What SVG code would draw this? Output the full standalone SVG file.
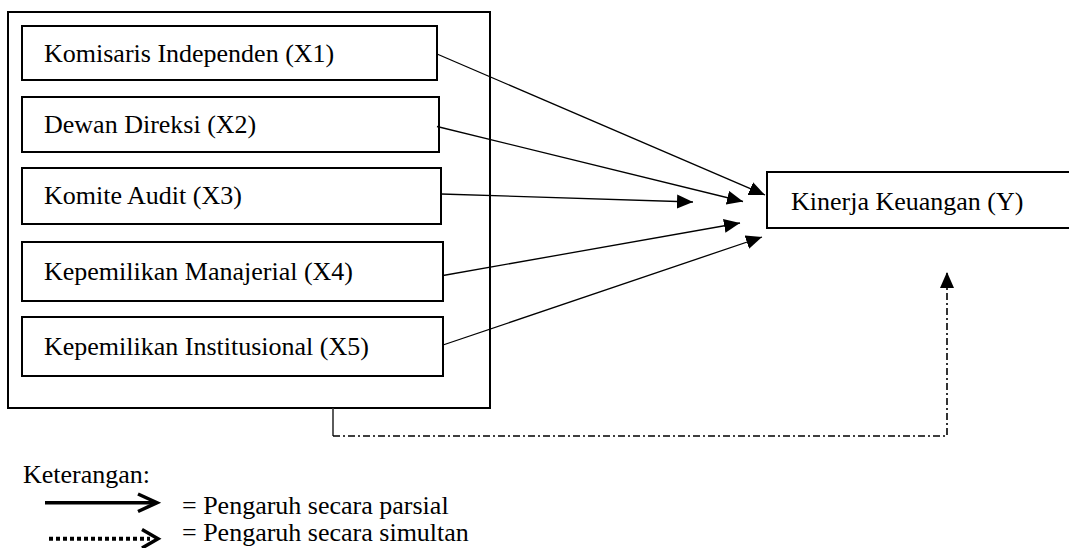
<svg xmlns="http://www.w3.org/2000/svg" width="1069" height="548" viewBox="0 0 1069 548">
<style>
.box{fill:#fff;stroke:#000;stroke-width:2}
text{font-family:'Liberation Serif','Times New Roman','DejaVu Serif',serif;font-size:26px;fill:#000}
.arr{stroke:#000;stroke-width:1.3;fill:none}
.dd{stroke:#000;stroke-width:1.6;fill:none;stroke-dasharray:7 3 2 3}
</style>
<defs>
<marker id="ah" markerUnits="userSpaceOnUse" markerWidth="18" markerHeight="16" refX="16" refY="7" orient="auto">
<path d="M0,0 L16,7 L0,14 Z" fill="#000"/>
</marker>
</defs>
<rect width="1069" height="548" fill="#fff"/>
<g id="outer"><rect class="box" x="8" y="12" width="482" height="396"/></g>
<g font-family="Liberation Serif, serif" font-size="26">
<g id="x1"><rect class="box" x="22" y="26" width="415" height="54"/><text x="44" y="62">Komisaris Independen (X1)</text></g>
<g id="x2"><rect class="box" x="22" y="97" width="417" height="55"/><text x="44" y="133">Dewan Direksi (X2)</text></g>
<g id="x3"><rect class="box" x="22" y="168" width="419" height="56"/><text x="44" y="204">Komite Audit (X3)</text></g>
<g id="x4"><rect class="box" x="22" y="242" width="421" height="59"/><text x="44" y="280">Kepemilikan Manajerial (X4)</text></g>
<g id="x5"><rect class="box" x="22" y="317" width="421" height="59"/><text x="44" y="355">Kepemilikan Institusional (X5)</text></g>
<g id="y"><rect class="box" x="767" y="172" width="320" height="56"/><text x="791" y="210">Kinerja Keuangan (Y)</text></g>
</g>
<g id="connectors">
<line class="arr" x1="437" y1="54" x2="765" y2="195" marker-end="url(#ah)"/>
<line class="arr" x1="437" y1="126.5" x2="743" y2="201.5" marker-end="url(#ah)"/>
<line class="arr" x1="441" y1="194" x2="693" y2="202" marker-end="url(#ah)"/>
<line class="arr" x1="443" y1="275.5" x2="740" y2="223" marker-end="url(#ah)"/>
<line class="arr" x1="443" y1="345" x2="762" y2="237" marker-end="url(#ah)"/>
<line x1="333" y1="408" x2="333" y2="436" stroke="#333" stroke-width="1.6"/>
<path class="dd" d="M333,436 H947 V272" marker-end="url(#ah)"/>
</g>
<g id="legend" font-family="Liberation Serif, serif" font-size="26">
<text x="23" y="483">Keterangan:</text>
<line x1="45" y1="502.7" x2="154" y2="502.7" stroke="#000" stroke-width="3.5"/>
<polyline points="138,494 157,502.7 138,511.5" fill="none" stroke="#000" stroke-width="3.5"/>
<text x="182" y="514">= Pengaruh secara parsial</text>
<line x1="49" y1="538.7" x2="150" y2="538.7" stroke="#000" stroke-width="4" stroke-dasharray="4 3"/>
<polyline points="142,529.5 158,538.7 142,548" fill="none" stroke="#000" stroke-width="3.5"/>
<text x="182" y="540.5">= Pengaruh secara simultan</text>
</g>
</svg>
